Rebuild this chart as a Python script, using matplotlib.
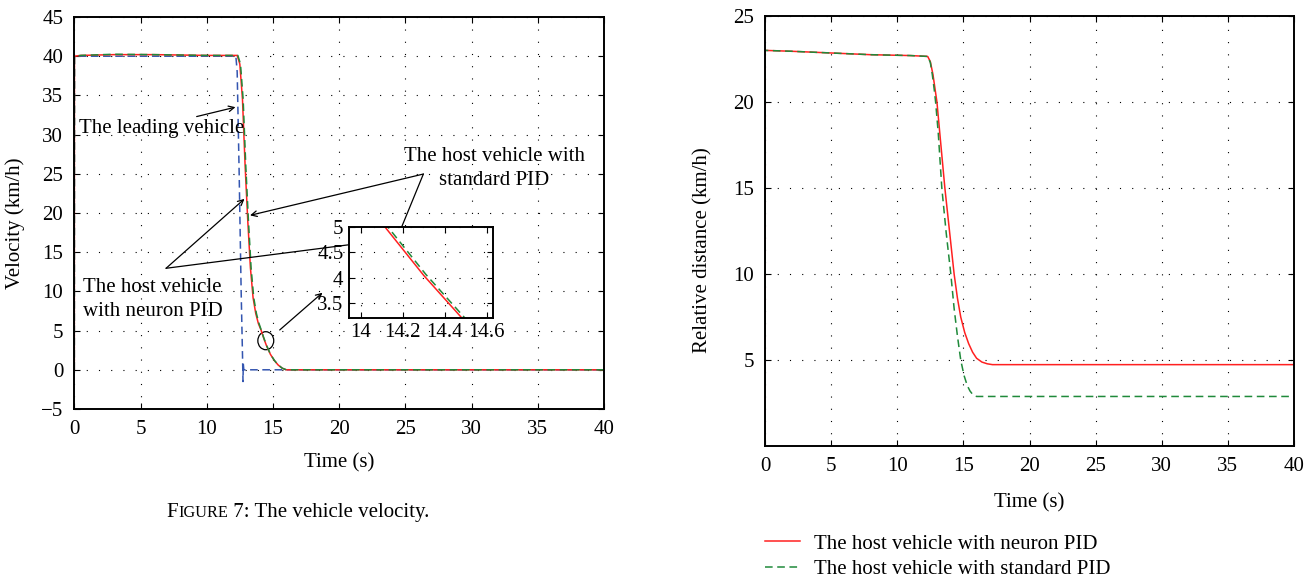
import numpy as np
import matplotlib.pyplot as plt
from matplotlib.patches import Ellipse
from matplotlib.offsetbox import TextArea, HPacker, AnchoredOffsetbox

plt.rcParams['font.family'] = ['Liberation Serif', 'DejaVu Serif']

# velocity figure (left)
t_lead = [0, 0.01, 12.2, 12.3, 12.45, 12.6, 12.7, 12.74, 12.76, 12.8, 13.0, 40]
v_lead = [0, 40, 40, 38, 25, 10, 2, -1.5, 0.8, 0, 0, 0]

t_neu = [0, 0.01, 0.5, 3, 6, 10, 12.3, 12.5, 12.7, 12.9, 13.1, 13.3, 13.5, 13.7, 13.9,
         14.1, 14.3, 14.5, 14.8, 15.1, 15.4, 15.7, 16.0, 40]
v_neu = [0, 40, 40.1, 40.2, 40.2, 40.1, 40.1, 39.0, 34.5, 26, 19, 13, 9.2, 7.2, 5.9,
         5.08, 4.05, 3.13, 2.0, 1.2, 0.6, 0.2, 0, 0]

t_std = [0, 0.01, 0.5, 3, 6, 10, 12.35, 12.55, 12.75, 12.95, 13.15, 13.35, 13.55, 13.75, 13.93,
         14.11, 14.31, 14.51, 14.81, 15.11, 15.41, 15.71, 16.02, 40]
v_std = [0, 40, 40.1, 40.25, 40.2, 40.1, 40.1, 39.0, 34.5, 26, 19, 13, 9.2, 7.2, 6.0,
         5.1, 4.07, 3.15, 2.0, 1.2, 0.6, 0.2, 0, 0]

# relative distance figure (right)
t_d_neu = [0, 0.01, 2, 5, 8, 11, 12.3, 12.5, 12.7, 12.85, 13.0, 13.3, 13.6, 13.95, 14.3,
           14.55, 14.8, 15.1, 15.4, 15.7, 16.0, 16.4, 16.8, 17.2, 40]
d_neu = [0, 23.0, 22.95, 22.85, 22.75, 22.7, 22.65, 22.35, 21.6, 20.8, 20.0, 17.5, 15.0,
         12.5, 10.0, 8.6, 7.5, 6.6, 5.95, 5.45, 5.1, 4.88, 4.78, 4.73, 4.73]

t_d_std = [0, 0.01, 2, 5, 8, 11, 12.3, 12.5, 12.65, 12.8, 12.9, 13.1, 13.37, 13.7, 14.05,
           14.3, 14.55, 14.8, 15.05, 15.3, 15.5, 15.7, 15.85, 16.0, 40]
d_std = [0, 23.0, 22.95, 22.85, 22.75, 22.7, 22.65, 22.3, 21.6, 20.7, 20.0, 18.2, 15.0,
         12.4, 10.0, 8.0, 6.4, 5.0, 4.1, 3.5, 3.2, 3.0, 2.92, 2.88, 2.88]

RED = '#ff2020'
GREEN = '#1f8a3a'
BLUE = '#3355b0'
FS = 15


def style_axes(ax):
    ax.grid(True, color='black', linestyle=(0, (1, 10)), linewidth=0.8)
    ax.tick_params(direction='in', top=True, right=True, length=4, width=0.8,
                   labelsize=FS, pad=8)
    for s in ax.spines.values():
        s.set_linewidth(1.4)


fig = plt.figure(figsize=(13.16, 5.82), dpi=100)

# ---- left: velocity
ax1 = fig.add_axes([74.3 / 1316, 1 - 409 / 582, 529.7 / 1316, 392 / 582])
ax1.plot(t_lead, v_lead, color=BLUE, linestyle=(0, (5, 3)), linewidth=1.1)
ax1.plot(t_neu, v_neu, color=RED, linewidth=1.1)
ax1.plot(t_std, v_std, color=GREEN, linestyle=(0, (5, 3)), linewidth=1.1)
ax1.set_xlim(0, 40)
ax1.set_ylim(-5, 45)
ax1.set_xticks(range(0, 41, 5))
ax1.set_yticks(range(-5, 46, 5))
ax1.set_yticklabels(['\u22125'] + [str(v) for v in range(0, 46, 5)])
style_axes(ax1)
ax1.set_xlabel('Time (s)', fontsize=FS, labelpad=10)
ax1.set_ylabel('Velocity (km/h)', fontsize=FS)
ax1.yaxis.set_label_coords(-0.093, 0.474)

arr = dict(arrowstyle='->', color='black', lw=0.9, shrinkA=0, shrinkB=0)
ax1.text(0.36, 30.8, 'The leading vehicle', fontsize=FS, va='center', ha='left')
ax1.annotate('', xy=(12.17, 33.5), xytext=(9.24, 32.3), arrowprops=arr)

ax1.text(31.7, 25.7, 'The host vehicle with\nstandard PID', fontsize=FS,
         va='center', ha='center', multialignment='center', linespacing=1.35)
ax1.annotate('', xy=(13.27, 19.7), xytext=(26.36, 24.97), arrowprops=arr)
ax1.annotate('', xy=(24.4, 16.9), xytext=(26.36, 24.97), arrowprops=arr)

ax1.text(0.66, 8.94, 'The host vehicle\nwith neuron PID', fontsize=FS,
         va='center', ha='left', linespacing=1.35)
ax1.annotate('', xy=(12.85, 21.8), xytext=(6.93, 12.95), arrowprops=arr)
ax1.annotate('', xy=(23.97, 16.65), xytext=(6.93, 12.95), arrowprops=arr)

ax1.add_patch(Ellipse((14.46, 3.71), 1.2, 2.3, fill=False, color='black', lw=0.9))
ax1.annotate('', xy=(18.74, 9.83), xytext=(15.51, 5.08), arrowprops=arr)

# inset zoom
axi = fig.add_axes([349 / 1316, 1 - 317.7 / 582, 144 / 1316, 90.7 / 582])
axi.plot(t_neu, v_neu, color=RED, linewidth=1.1)
axi.plot(t_std, v_std, color=GREEN, linestyle=(0, (5, 3)), linewidth=1.1)
axi.set_xlim(13.944, 14.63)
axi.set_ylim(3.22, 5.0)
axi.set_xticks([14, 14.2, 14.4, 14.6])
axi.set_xticklabels(['14', '14.2', '14.4', '14.6'])
axi.set_yticks([3.5, 4, 4.5, 5])
axi.set_yticklabels(['3.5', '4', '4.5', '5'])
style_axes(axi)
axi.tick_params(pad=4)

# caption
parts = [TextArea('F', textprops=dict(size=FS)),
         TextArea('IGURE', textprops=dict(size=FS * 0.78)),
         TextArea(' 7: The vehicle velocity.', textprops=dict(size=FS))]
box = HPacker(children=parts, align='baseline', pad=0, sep=0)
fig.add_artist(AnchoredOffsetbox(loc='lower left', child=box,
                                 bbox_to_anchor=(166.7 / 1316, 1 - 522 / 582),
                                 bbox_transform=fig.transFigure, frameon=False,
                                 pad=0, borderpad=0))

# ---- right: relative distance
ax2 = fig.add_axes([765 / 1316, 1 - 446 / 582, 529 / 1316, 430 / 582])
l1, = ax2.plot(t_d_neu, d_neu, color=RED, linewidth=1.1)
l2, = ax2.plot(t_d_std, d_std, color=GREEN, linestyle=(0, (5, 3)), linewidth=1.1)
ax2.set_xlim(0, 40)
ax2.set_ylim(0, 25)
ax2.set_xticks(range(0, 41, 5))
ax2.set_yticks([5, 10, 15, 20, 25])
style_axes(ax2)
ax2.set_xlabel('Time (s)', fontsize=FS, labelpad=12)
ax2.set_ylabel('Relative distance (km/h)', fontsize=FS)
ax2.yaxis.set_label_coords(-0.1, 0.456)

fig.legend([l1, l2], ['The host vehicle with neuron PID', 'The host vehicle with standard PID'],
           loc='upper left', bbox_to_anchor=(765 / 1316, 1 - 534 / 582), frameon=False,
           fontsize=FS, handlelength=1.7, handletextpad=0.63, labelspacing=0.3,
           borderpad=0, borderaxespad=0)

fig.savefig('out.png', dpi=100)
